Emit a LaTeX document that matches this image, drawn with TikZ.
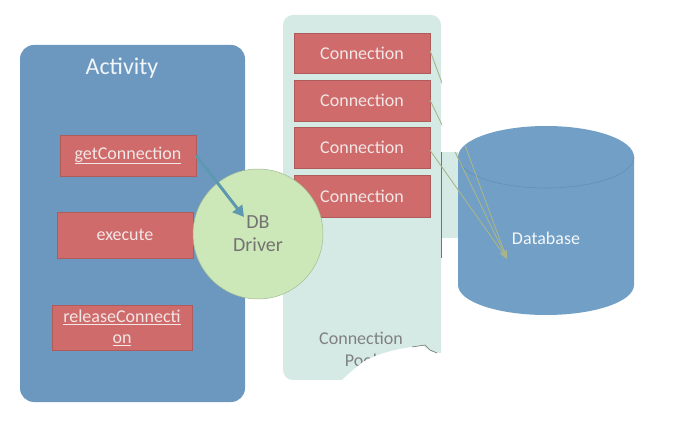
\documentclass[tikz,border=0pt]{standalone}
\usepackage{fontspec}
\setmainfont{Carlito}
\usetikzlibrary{arrows.meta}
\definecolor{actblue}{HTML}{6C98C0}
\definecolor{boxred}{HTML}{CF6B6B}
\definecolor{boxtext}{HTML}{F3E6E6}
\definecolor{poolcol}{HTML}{D5EAE5}
\definecolor{drvgreen}{HTML}{CDE8B8}
\definecolor{dbblue}{HTML}{729FC6}
\definecolor{dbedge}{HTML}{6190B8}
\definecolor{arrowblue}{HTML}{5E98B0}
\definecolor{linkcol}{HTML}{A9B58A}
\tikzset{
  redbox/.style={fill=boxred, draw=boxred!85!black, line width=0.4pt, minimum width=136pt, minimum height=41pt, inner sep=0pt, text=boxtext, font=\fontsize{18}{21}\selectfont, align=center},
  linkline/.style={draw=linkcol, line width=0.9pt, -{Stealth[length=9pt,width=6pt,open]}}
}
\begin{document}
\begin{tikzpicture}[x=1pt,y=-1pt]
\useasboundingbox[fill=white] (0,0) rectangle (675,446);
% Activity panel
\node[fill=actblue, rounded corners=14pt, minimum width=225pt, minimum height=357pt, inner sep=0pt] (act) at (132.5,223.5) {};
\node[text=white!90!actblue, font=\fontsize{24}{28}\selectfont] (acttitle) at (122,68) {Activity};
\node[redbox] (get) at (128,155.5) {\underline{getConnection}};
\node[redbox, minimum height=46pt] (exec) at (125,235) {execute};
\node[redbox, minimum width=140pt, minimum height=45pt, font=\fontsize{18}{20}\selectfont] (rel) at (122,327.5) {\underline{releaseConnecti}\\[1pt]\underline{on}};
% Connection pool panel
\node[fill=poolcol, rounded corners=10pt, minimum width=158pt, minimum height=365pt, inner sep=0pt] (pool) at (362,197.5) {};
\node[fill=poolcol, minimum width=17pt, minimum height=86pt, inner sep=0pt] (strip) at (449.5,195) {};
\draw[actblue!80!black, line width=0.6pt] (strip.north west) -- ([yshift=-20pt]strip.south west);
\node[redbox, minimum height=40pt] (c1) at (362,53) {Connection};
\node[redbox, minimum height=41pt] (c2) at (362,100.5) {Connection};
\node[redbox, minimum height=41pt] (c3) at (362,147.5) {Connection};
\node[redbox, minimum height=42pt] (c4) at (362,196) {Connection};
\node[text=black!50, font=\fontsize{18}{22}\selectfont, align=center] (pooltext) at (361,349) {Connection\\Pool};
% torn corner
\fill[white] (334,392) -- (338,384) .. controls (346,376) and (355,368) .. (363,362) .. controls (380,352) and (405,347) .. (423,346) -- (432,352) -- (446,354) -- (446,392) -- cycle;
\draw[black!55, line width=0.6pt] (412,347) -- (425,345) -- (430,350) -- (437,353);
% DB Driver
\node[circle, fill=drvgreen, draw=drvgreen!80!black, line width=0.5pt, minimum size=130pt, inner sep=0pt, text=black!55, font=\fontsize{20}{23}\selectfont, align=center] (drv) at (258,234) {DB\\Driver};
\coordinate (drvin) at (244,217);
\draw[arrowblue, line width=3pt, -{Triangle[length=11pt,width=12pt]}] (get.east) -- (drvin);
% Database cylinder
\fill[dbblue] (458,157) -- (458,285) arc[start angle=180, end angle=360, x radius=88pt, y radius=30pt] -- (634,157) arc[start angle=0, end angle=180, x radius=88pt, y radius=31pt] -- cycle;
\draw[dbedge, line width=0.6pt] (458,157) arc[start angle=180, end angle=360, x radius=88pt, y radius=31pt];
\node[text=white!92!dbblue, font=\fontsize{18}{22}\selectfont] (db) at (546,238) {Database};
\coordinate (dbin) at (507,259);
\begin{scope}
\clip (283,15) rectangle (442,380) (442,152) rectangle (458,238) (458,157) -- (458,285) arc[start angle=180, end angle=360, x radius=88pt, y radius=30pt] -- (634,157) arc[start angle=0, end angle=180, x radius=88pt, y radius=31pt] -- cycle;
\draw[linkline] ([yshift=2pt]c1.east) -- (dbin);
\draw[linkline] (c2.east) -- (dbin);
\draw[linkline] ([yshift=-3pt]c3.east) -- (dbin);
\end{scope}
\end{tikzpicture}
\end{document}
